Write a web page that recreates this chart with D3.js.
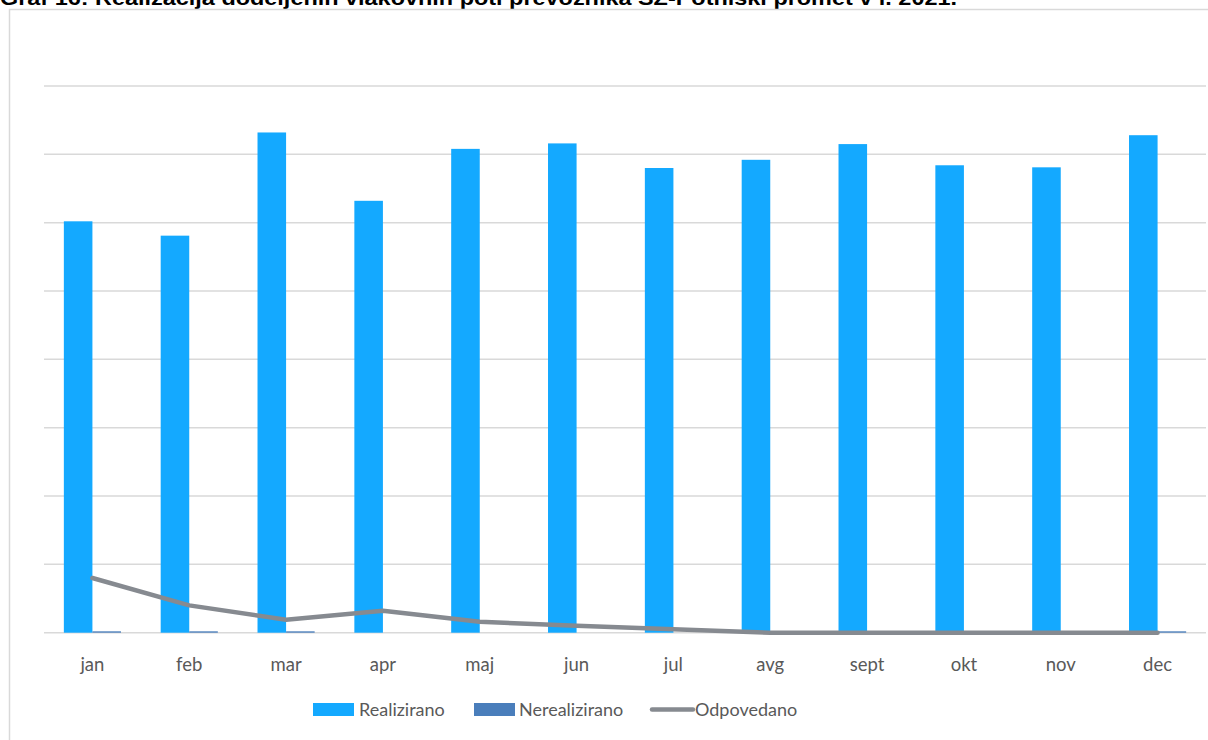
<!DOCTYPE html>
<html>
<head>
<meta charset="utf-8">
<script src="https://cdn.jsdelivr.net/npm/d3@7"></script>
<style>
  html, body { margin: 0; padding: 0; background: #fff; }
  svg { display: block; }
</style>
</head>
<body>
<svg id="chart" width="1208" height="740"></svg>
<script>
const months = ["jan","feb","mar","apr","maj","jun","jul","avg","sept","okt","nov","dec"];
const realizirano = [602, 581, 732, 632, 708, 716, 680, 692, 715, 684, 681, 728];
const nerealizirano = [2, 2, 2, 0, 0, 0, 0, 0, 0, 0, 0, 2];
const odpovedano = [80, 40, 19, 32, 16, 10, 5, 0, 0, 0, 0, 0];
const yTicks = [0, 100, 200, 300, 400, 500, 600, 700, 800];
const seriesNames = ["Realizirano", "Nerealizirano", "Odpovedano"];
const titleText = "Graf 16: Realizacija dodeljenih vlakovnih poti prevoznika SŽ-Potniški promet v l. 2021.";

const colors = { Realizirano: "#14a9ff", Nerealizirano: "#4a7ebb", Odpovedano: "#868a90" };
const font = "Lato, 'Open Sans', sans-serif";

const svg = d3.select("#chart");

// title (cut at top, as in the reference)
svg.append("text")
  .attr("x", 0).attr("y", 5)
  .attr("font-family", "'Liberation Sans', Arial, sans-serif")
  .attr("font-weight", "bold")
  .attr("font-size", 21)
  .attr("textLength", 957)
  .attr("lengthAdjust", "spacingAndGlyphs")
  .attr("fill", "#000")
  .text(titleText);

// frame
svg.append("rect")
  .attr("x", 9.5).attr("y", 9.5)
  .attr("width", 1210).attr("height", 740)
  .attr("fill", "none").attr("stroke", "#d9d9d9").attr("stroke-width", 1.5);

const plot = { left: 44, right: 1206, top: 86, bottom: 632.7 };

const y = d3.scaleLinear().domain([0, 800]).range([plot.bottom, plot.top]);
const x0 = d3.scaleBand().domain(months).range([plot.left, plot.right])
  .paddingInner(0.41).paddingOuter(0.205);
const x1 = d3.scaleBand().domain(["Realizirano", "Nerealizirano"]).range([0, x0.bandwidth()]).padding(0);

// gridlines
svg.append("g").selectAll("line").data(yTicks).join("line")
  .attr("x1", plot.left).attr("x2", plot.right)
  .attr("y1", d => y(d)).attr("y2", d => y(d))
  .attr("stroke", "#d9d9d9").attr("stroke-width", 1.5);

// bars
const groups = svg.append("g").selectAll("g").data(months).join("g")
  .attr("transform", d => `translate(${x0(d)},0)`);

groups.append("rect")
  .attr("x", x1("Realizirano"))
  .attr("width", x1.bandwidth())
  .attr("y", (d, i) => y(realizirano[i]))
  .attr("height", (d, i) => y(0) - y(realizirano[i]))
  .attr("fill", colors.Realizirano);

groups.append("rect")
  .attr("x", x1("Nerealizirano"))
  .attr("width", x1.bandwidth())
  .attr("y", (d, i) => y(nerealizirano[i]))
  .attr("height", (d, i) => y(0) - y(nerealizirano[i]))
  .attr("fill", colors.Nerealizirano);

// line
const line = d3.line()
  .x((d, i) => x0(months[i]) + x0.bandwidth() / 2)
  .y(d => y(d));
svg.append("path")
  .datum(odpovedano)
  .attr("d", line)
  .attr("fill", "none")
  .attr("stroke", colors.Odpovedano)
  .attr("stroke-width", 4.5)
  .attr("stroke-linejoin", "round")
  .attr("stroke-linecap", "round");

// x axis labels
const xAxis = d3.axisBottom(x0).tickSize(0).tickPadding(0);
const gx = svg.append("g").attr("transform", `translate(0,${plot.bottom})`).call(xAxis);
gx.select(".domain").remove();
gx.selectAll("text")
  .attr("y", 38)
  .attr("dy", null)
  .attr("font-family", font)
  .attr("font-size", 18.5)
  .attr("fill", "#595959");

// legend
const legend = svg.append("g").attr("font-family", font).attr("font-size", 18).attr("fill", "#595959");
const legItems = [
  { name: seriesNames[0], type: "rect", sx: 313, tx: 359 },
  { name: seriesNames[1], type: "rect", sx: 474, tx: 519 },
  { name: seriesNames[2], type: "line", sx: 650, tx: 695 }
];
legItems.forEach(it => {
  if (it.type === "rect") {
    legend.append("rect").attr("x", it.sx).attr("y", 703).attr("width", 41).attr("height", 13)
      .attr("fill", colors[it.name]);
  } else {
    legend.append("line").attr("x1", it.sx + 2).attr("x2", it.sx + 43).attr("y1", 709.5).attr("y2", 709.5)
      .attr("stroke", colors[it.name]).attr("stroke-width", 4.5).attr("stroke-linecap", "round");
  }
  legend.append("text").attr("x", it.tx).attr("y", 716).attr("fill", "#595959").text(it.name);
});
</script>
</body>
</html>
